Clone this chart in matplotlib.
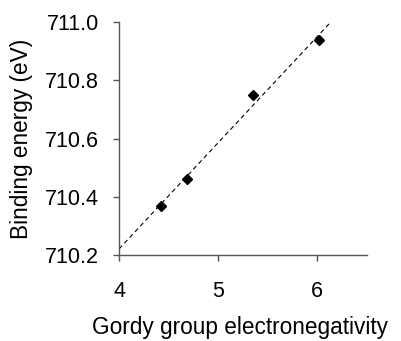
import numpy as np
import matplotlib
matplotlib.use("Agg")
import matplotlib.pyplot as plt

plt.rcParams['font.family'] = ['Liberation Sans', 'DejaVu Sans']

electroneg = [4.42, 4.69, 5.35, 6.02]
binding = [710.37, 710.46, 710.75, 710.94]
xticks = [4, 5, 6]
yticks = [710.2, 710.4, 710.6, 710.8, 711.0]

fig = plt.figure(figsize=(4.01, 3.41), dpi=100)
ax = fig.add_axes([0.2968, 0.2522, 0.6182, 0.6824])

slope, intercept = np.polyfit(electroneg, binding, 1)
xl = np.array([4.0, 6.5])
ax.plot(xl, slope * xl + intercept, color='black', lw=0.8, dashes=(4, 3))
ax.plot(electroneg, binding, 'D', color='black', ms=5.2, zorder=3)

ax.set_xlim(4, 6.5)
ax.set_ylim(710.2, 711.0)
ax.set_xticks(xticks)
ax.set_xticklabels([str(t) for t in xticks])
ax.set_yticks(yticks)
ax.set_yticklabels([f"{t:.1f}" for t in yticks])
for s in ['top', 'right']:
    ax.spines[s].set_visible(False)
for s in ['left', 'bottom']:
    ax.spines[s].set_color('#555555')
    ax.spines[s].set_linewidth(1.0)
ax.tick_params(axis='both', colors='#555555', labelcolor='black', length=4.5, width=1.0, labelsize=15.5)
ax.tick_params(axis='y', pad=10)
ax.tick_params(axis='x', pad=14)
ax.set_xlabel('Gordy group electronegativity', fontsize=16.3)
ax.set_ylabel('Binding energy (eV)', fontsize=16.3)
ax.xaxis.set_label_coords(0.49, -0.26)
ax.yaxis.set_label_coords(-0.347, 0.5)

fig.savefig('out.png', dpi=100)
